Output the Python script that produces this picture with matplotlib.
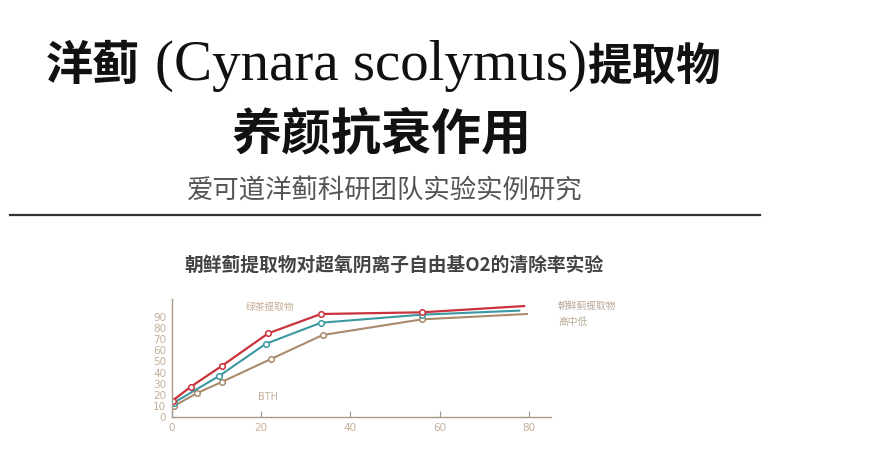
import matplotlib
matplotlib.use("Agg")
import matplotlib.pyplot as plt

CJK = ["Noto Sans CJK SC", "DejaVu Sans"]
SERIF = ["Liberation Serif", "DejaVu Serif"]

# data (time, clearance %)
x_high = [0.2, 4.3, 11.2, 21.6, 33.4, 56, 78.9]
y_high = [14.9, 27.4, 45.9, 75.1, 92.4, 93.9, 99.5]
x_mid = [0.5, 10.6, 21.0, 33.4, 56, 77.8]
y_mid = [13.1, 36.9, 65.6, 84.6, 91.8, 95.4]
x_low = [0.5, 5.6, 11.2, 22.2, 33.8, 56, 79.5]
y_low = [10.1, 21.5, 31.6, 52.1, 73.6, 87.6, 92.4]

x_ticks = [0, 20, 40, 60, 80]
y_ticks = [0, 10, 20, 30, 40, 50, 60, 70, 80, 90]

RED = "#c9323b"
TEAL = "#3b98a3"
BROWN = "#a98b6b"
TAN = "#c4ae98"

W, H = 871, 459
fig = plt.figure(figsize=(W / 100, H / 100), dpi=100)

# heading block (split so the latin part can be a plain serif)
base1 = 1 - 80 / H
fig.text(46 / W, base1, "洋蓟", family=CJK, fontsize=34, fontweight="bold",
         color="#111111", va="baseline", ha="left")
fig.text(155 / W, base1, "(Cynara scolymus)", family=SERIF, fontsize=41,
         color="#111111", va="baseline", ha="left")
fig.text(588 / W, base1, "提取物", family=CJK, fontsize=32, fontweight="bold",
         color="#111111", va="baseline", ha="left")
fig.text(381 / W, 1 - 135 / H, "养颜抗衰作用", family=CJK, fontsize=36,
         fontweight="bold", color="#111111", va="center", ha="center")
fig.text(385 / W, 1 - 190 / H, "爱可道洋蓟科研团队实验实例研究", family=CJK,
         fontsize=19, color="#555555", va="center", ha="center")
fig.add_artist(plt.Line2D([10 / W, 760 / W], [1 - 215 / H, 1 - 215 / H],
                          color="#333333", lw=1.6, transform=fig.transFigure))
fig.text(394 / W, 1 - 265 / H, "朝鲜蓟提取物对超氧阴离子自由基O2的清除率实验",
         family=CJK, fontsize=13.5, fontweight="bold", color="#444444",
         va="center", ha="center")

# chart
ax = fig.add_axes([171.7 / W, 1 - 417.3 / H, 379.7 / W, 118.5 / H])
ax.set_xlim(0, 85)
ax.set_ylim(0, 106)

mk = dict(marker="o", markersize=4, markerfacecolor="white", markeredgewidth=1.1)
ax.plot(x_low, y_low, color=BROWN, lw=1.5, markevery=list(range(len(x_low) - 1)), **mk)
ax.plot(x_mid, y_mid, color=TEAL, lw=1.5, markevery=list(range(len(x_mid) - 1)), **mk)
ax.plot(x_high, y_high, color=RED, lw=1.6, markevery=list(range(len(x_high) - 1)), **mk)

for s in ["top", "right"]:
    ax.spines[s].set_visible(False)
for s in ["left", "bottom"]:
    ax.spines[s].set_color("#a89888")
    ax.spines[s].set_linewidth(1.0)

ax.set_xticks(x_ticks)
ax.set_yticks(y_ticks)
ax.tick_params(axis="x", direction="in", length=4, color="#a89888",
               labelcolor=TAN, labelsize=7.5, pad=4)
ax.tick_params(axis="y", length=0, labelcolor=TAN, labelsize=7.5, pad=4)

ax.text(16.5, 99, "绿茶提取物", family=CJK, fontsize=7, color=TAN, ha="left", va="center")
ax.text(19.3, 18, "BTH", fontsize=7, color=TAN, ha="left", va="center")

fig.text(558 / W, 1 - 306 / H, "朝鲜蓟提取物", family=CJK, fontsize=7,
         color="#b8a898", ha="left", va="center")
fig.text(558 / W, 1 - 322 / H, "高中低", family=CJK, fontsize=7,
         color="#b8a898", ha="left", va="center")

fig.savefig("out.png", dpi=100)
